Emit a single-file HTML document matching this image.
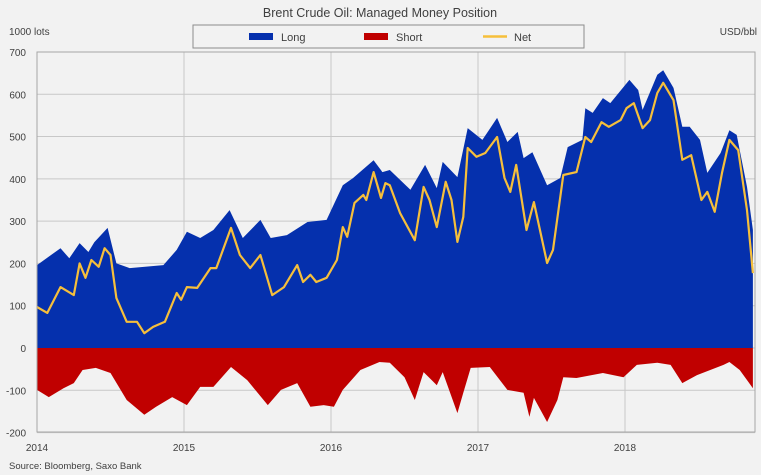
<!DOCTYPE html>
<html><head><meta charset="utf-8"><style>
body{margin:0;background:#f2f2f2;font-family:"Liberation Sans",sans-serif;}
svg{display:block}
text{font-family:"Liberation Sans",sans-serif;fill:#404040}
</style></head><body>
<svg id="chart" width="761" height="475" viewBox="0 0 761 475">
<rect width="761" height="475" fill="#f2f2f2"/>
<text x="380" y="17" font-size="12.5" text-anchor="middle">Brent Crude Oil: Managed Money Position</text>
<g>
<rect x="193" y="25" width="391" height="23" fill="#f2f2f2" stroke="#8c8c8c"/>
<g><rect x="249" y="33" width="24" height="7" fill="#0530ad"/><text x="281" y="41" font-size="11">Long</text></g>
<g><rect x="364" y="33" width="24" height="7" fill="#c00000"/><text x="396" y="41" font-size="11">Short</text></g>
<g><line x1="483" y1="36.5" x2="507" y2="36.5" stroke="#f6bf3b" stroke-width="2.5"/><text x="514" y="41" font-size="11">Net</text></g>
</g>
<text x="9" y="35" font-size="10">1000 lots</text>
<text x="757" y="35" font-size="10" text-anchor="end">USD/bbl</text>
<text x="9" y="469" font-size="9.5">Source: Bloomberg, Saxo Bank</text>
<g id="grid"></g>
<g id="marks"></g>
<g id="axes"></g>
</svg>
<script>
const yTicks=[700,600,500,400,300,200,100,0,-100,-200];
const xTickYears=[2014,2015,2016,2017,2018];
const longT=[2014.00,2014.16,2014.22,2014.29,2014.35,2014.39,2014.48,2014.54,2014.63,2014.86,2014.95,2015.02,2015.11,2015.20,2015.31,2015.40,2015.52,2015.59,2015.70,2015.84,2015.97,2016.08,2016.15,2016.29,2016.35,2016.40,2016.54,2016.64,2016.72,2016.76,2016.86,2016.93,2017.03,2017.13,2017.20,2017.27,2017.31,2017.37,2017.47,2017.56,2017.61,2017.71,2017.73,2017.78,2017.85,2017.90,2018.03,2018.09,2018.12,2018.22,2018.26,2018.33,2018.39,2018.44,2018.51,2018.56,2018.65,2018.71,2018.76,2018.83,2018.87];
const longV=[196,236,212,248,227,250,284,200,189,196,232,275,260,279,326,260,303,260,267,298,303,385,402,444,416,421,374,433,378,440,404,520,492,544,487,511,449,463,385,402,475,492,567,556,591,579,634,610,563,646,657,615,523,523,492,414,461,515,504,381,279];
const shortT=[2014.00,2014.08,2014.18,2014.25,2014.31,2014.40,2014.50,2014.61,2014.73,2014.81,2014.92,2015.02,2015.11,2015.20,2015.32,2015.43,2015.57,2015.66,2015.77,2015.86,2015.95,2016.02,2016.08,2016.20,2016.33,2016.40,2016.50,2016.57,2016.63,2016.72,2016.76,2016.86,2016.90,2016.95,2017.08,2017.20,2017.31,2017.35,2017.38,2017.47,2017.54,2017.58,2017.67,2017.85,2017.99,2018.08,2018.22,2018.31,2018.39,2018.49,2018.67,2018.71,2018.78,2018.87];
const shortV=[-99,-116,-95,-83,-52,-47,-59,-123,-158,-139,-116,-135,-92,-92,-45,-76,-135,-99,-83,-139,-135,-139,-99,-52,-33,-35,-69,-123,-57,-88,-57,-154,-106,-47,-45,-99,-106,-163,-118,-175,-123,-69,-71,-59,-69,-40,-35,-40,-83,-64,-40,-33,-52,-95];
const netT=[2014.00,2014.07,2014.16,2014.25,2014.29,2014.33,2014.37,2014.42,2014.46,2014.50,2014.54,2014.61,2014.68,2014.73,2014.79,2014.87,2014.95,2014.98,2015.02,2015.09,2015.18,2015.22,2015.32,2015.38,2015.45,2015.52,2015.60,2015.68,2015.77,2015.81,2015.86,2015.90,2015.97,2016.04,2016.08,2016.11,2016.16,2016.22,2016.24,2016.29,2016.34,2016.37,2016.40,2016.47,2016.57,2016.63,2016.67,2016.72,2016.78,2016.82,2016.86,2016.90,2016.93,2016.99,2017.05,2017.13,2017.18,2017.22,2017.26,2017.33,2017.38,2017.47,2017.51,2017.58,2017.67,2017.73,2017.77,2017.84,2017.89,2017.97,2018.01,2018.06,2018.12,2018.17,2018.22,2018.26,2018.33,2018.39,2018.45,2018.52,2018.56,2018.61,2018.66,2018.71,2018.77,2018.83,2018.87];
const netV=[97,83,144,125,200,166,208,192,236,220,118,62,62,35,50,62,130,114,144,142,189,189,284,220,189,220,125,144,196,156,173,156,166,208,286,263,343,362,350,416,355,390,385,319,255,381,350,286,393,350,251,310,473,452,461,499,402,369,433,279,345,201,232,409,416,499,487,534,523,539,567,579,520,539,603,627,586,445,456,350,369,322,414,492,468,326,177];

const NS='http://www.w3.org/2000/svg';
const L=37,R=755,T=52,B=432;
const xs=t=>L+(t-2014)*147;
const ys=v=>348-v*0.4229;
function mk(tag,attrs,parent){const e=document.createElementNS(NS,tag);for(const k in attrs)e.setAttribute(k,attrs[k]);parent.appendChild(e);return e;}
const grid=document.getElementById('grid'),marks=document.getElementById('marks'),axes=document.getElementById('axes');
yTicks.forEach(v=>{
  const l=mk('line',{x1:L,x2:R,y1:ys(v),y2:ys(v),stroke:'#c8c8c8','stroke-width':1},grid);
  
  
  const t=mk('text',{x:26,y:ys(v)+4,'font-size':10,'text-anchor':'end'},axes);
  t.textContent=v;
  
  
});
xTickYears.forEach(y=>{
  const l=mk('line',{x1:xs(y),x2:xs(y),y1:T,y2:B,stroke:'#c8c8c8','stroke-width':1},grid);
  
  
  const t=mk('text',{x:xs(y),y:451,'font-size':10,'text-anchor':'middle'},axes);
  t.textContent=y;
  
  
});
function area(T_,V,fill,name){
  let d='M'+xs(T_[0])+','+ys(0);
  T_.forEach((t,i)=>d+='L'+xs(t).toFixed(1)+','+ys(V[i]).toFixed(1));
  d+='L'+xs(T_[T_.length-1])+','+ys(0)+'Z';
  const p=mk('path',{d:d,fill:fill},marks);
  
  
}
area(longT,longV,'#0530ad','long-area');
area(shortT,shortV,'#c00000','short-area');
const nd=netT.map((t,i)=>(i?'L':'M')+xs(t).toFixed(1)+','+ys(netV[i]).toFixed(1)).join('');
const np=mk('path',{d:nd,fill:'none',stroke:'#f6bf3b','stroke-width':2.2,'stroke-linejoin':'round'},marks);


const fr=mk('rect',{x:L,y:T,width:R-L,height:B-T,fill:'none',stroke:'#a6a6a6'},axes);


</script>
</body></html>
